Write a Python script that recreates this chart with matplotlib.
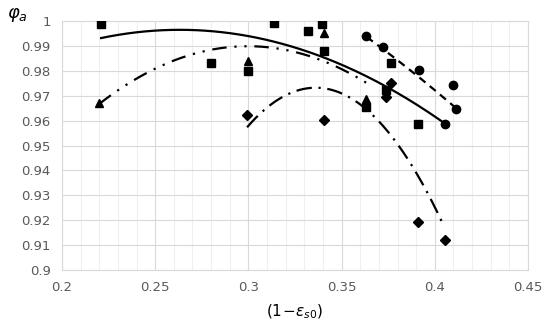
import numpy as np
import matplotlib
matplotlib.use('Agg')
import matplotlib.pyplot as plt
from matplotlib.ticker import MultipleLocator

# marker values
sq_x = [0.221, 0.280, 0.300, 0.314, 0.332, 0.3396, 0.3405, 0.3763, 0.3737, 0.3629, 0.3912]
sq_y = [0.9988, 0.9833, 0.9798, 0.9994, 0.9959, 0.9990, 0.9878, 0.9833, 0.9724, 0.9655, 0.9585]

tri_x = [0.220, 0.2996, 0.3405, 0.3633]
tri_y = [0.9672, 0.9838, 0.9952, 0.9686]

dia_x = [0.2993, 0.3405, 0.3763, 0.3737, 0.3912, 0.4056]
dia_y = [0.9624, 0.9604, 0.9753, 0.9695, 0.9193, 0.9119]

cir_x = [0.3633, 0.3722, 0.3916, 0.4095, 0.4113, 0.4056]
cir_y = [0.9939, 0.9896, 0.9802, 0.9745, 0.9648, 0.9585]

# points read along the trendlines (2nd order polynomial)
tr_sq_x = [0.221, 0.262, 0.2903, 0.3495, 0.3548, 0.4032, 0.4056]
tr_sq_y = [0.9933, 0.9963, 0.9949, 0.9829, 0.9809, 0.9601, 0.9585]

tr_tri_x = [0.220, 0.241, 0.2536, 0.2769, 0.2939, 0.3065, 0.3136, 0.3297, 0.3423, 0.3495, 0.3602, 0.364]
tr_tri_y = [0.9672, 0.9769, 0.9815, 0.9882, 0.9900, 0.9902, 0.9889, 0.9865, 0.9835, 0.9809, 0.9762, 0.9750]

tr_dia_x = [0.2993, 0.3032, 0.3172, 0.336, 0.3495, 0.3704, 0.3755, 0.3844, 0.3960, 0.4050]
tr_dia_y = [0.9574, 0.9605, 0.9695, 0.9726, 0.9702, 0.9605, 0.9548, 0.9467, 0.9304, 0.9173]

tr_cir_x = [0.3634, 0.3763, 0.3826, 0.3898, 0.3960, 0.4023, 0.4077, 0.4113]
tr_cir_y = [0.9938, 0.9862, 0.9822, 0.9789, 0.9749, 0.9708, 0.9675, 0.9648]

series = [
  (sq_x, sq_y, tr_sq_x, tr_sq_y, 's', '-'),
  (tri_x, tri_y, tr_tri_x, tr_tri_y, '^', (0, (6.5, 3.5, 1, 3.5, 1, 3.5))),
  (dia_x, dia_y, tr_dia_x, tr_dia_y, 'D', (0, (7, 3, 1, 3))),
  (cir_x, cir_y, tr_cir_x, tr_cir_y, 'o', (0, (3.5, 2.5))),
]

fig = plt.figure(figsize=(5.5, 3.3), dpi=100)
ax = fig.add_axes([0.1127, 0.1818, 0.8473, 0.7545])

for xs, ys, tx, ty, mk, ls in series:
  ms = 5 if mk == 'D' else 6
  ax.plot(xs, ys, linestyle='none', marker=mk, color='black', markersize=ms, zorder=3)
  c = np.polyfit(tx, ty, 2)
  xx = np.linspace(min(tx), max(tx), 200)
  ax.plot(xx, np.polyval(c, xx), color='black', linestyle=ls, linewidth=1.6, zorder=2)

ax.set_xlim(0.2, 0.45)
ax.set_ylim(0.9, 1.0)
ax.xaxis.set_minor_locator(MultipleLocator(0.01))
ax.set_xticks([0.2, 0.25, 0.3, 0.35, 0.4, 0.45])
ax.set_xticklabels(['0.2', '0.25', '0.3', '0.35', '0.4', '0.45'])
ax.set_yticks(np.round(np.arange(0.9, 1.001, 0.01), 2))
ax.set_yticklabels(['0.9', '0.91', '0.92', '0.93', '0.94', '0.95', '0.96', '0.97', '0.98', '0.99', '1'])
ax.grid(which='major', color='#d9d9d9', linewidth=0.8)
ax.grid(which='minor', axis='x', color='#efefef', linewidth=0.8)
ax.set_axisbelow(True)
ax.tick_params(which='both', length=0, labelsize=9.5, labelcolor='#595959', pad=8)
for s in ax.spines.values():
  s.set_color('#d9d9d9')

ax.set_xlabel(r'$\mathit{(1\!-\!}\varepsilon_{\mathit{s0}}\mathit{)}$', fontsize=11, labelpad=6)
fig.text(0.012, 0.955, r'$\varphi_a$', fontsize=13, ha='left', va='center')

fig.savefig('out.png', dpi=100)
